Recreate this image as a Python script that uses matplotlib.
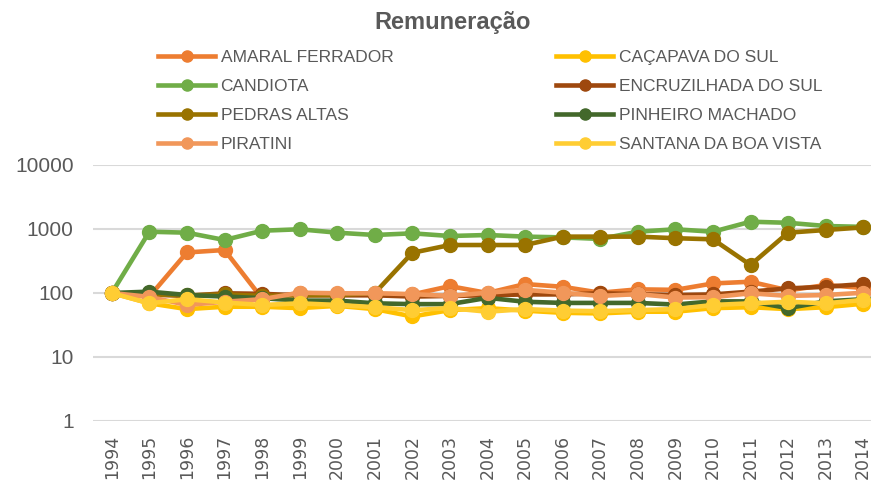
import matplotlib
matplotlib.use("Agg")
import matplotlib.pyplot as plt
from matplotlib.lines import Line2D

years = [str(y) for y in range(1994, 2015)]

amaral_ferrador = [100, 88, 430, 470, 82, 100, 97, 97, 95, 128, 100, 138, 125, 101, 114, 112, 141, 150, 110, 133, 120]
cacapava_do_sul = [100, 69, 56, 61, 61, 58, 63, 56, 43, 54, 58, 53, 49, 48, 51, 51, 58, 60, 56, 60, 68]
candiota = [100, 907, 876, 673, 940, 990, 876, 806, 856, 777, 806, 760, 740, 700, 907, 990, 907, 1300, 1250, 1114, 1080]
encruzilhada_do_sul = [100, 95, 90, 99, 97, 92, 92, 92, 88, 90, 92, 95, 95, 99, 96, 93, 95, 105, 118, 125, 138]
pedras_altas = [100, 95, 92, 95, 90, 92, 93, 100, 425, 562, 562, 562, 760, 760, 760, 718, 690, 274, 876, 965, 1060]
pinheiro_machado = [100, 105, 93, 88, 83, 76, 76, 69, 67, 67, 84, 73, 70, 70, 70, 66, 74, 74, 58, 74, 80]
piratini = [100, 87, 65, 73, 80, 101, 99, 99, 96, 90, 101, 112, 101, 90, 96, 85, 86, 99, 90, 93, 101]
santana_da_boa_vista = [100, 69, 80, 71, 65, 69, 65, 60, 54, 58, 51, 56, 53, 52, 54, 56, 65, 69, 73, 69, 78]

names = ["AMARAL FERRADOR", "CAÇAPAVA DO SUL", "CANDIOTA", "ENCRUZILHADA DO SUL",
         "PEDRAS ALTAS", "PINHEIRO MACHADO", "PIRATINI", "SANTANA DA BOA VISTA"]
series = [amaral_ferrador, cacapava_do_sul, candiota, encruzilhada_do_sul,
          pedras_altas, pinheiro_machado, piratini, santana_da_boa_vista]
colors = ["#ED7D31", "#FFC000", "#70AD47", "#9E480E", "#997300", "#43682B", "#F1975A", "#FFCD33"]

plt.rcParams['font.family'] = ['Liberation Sans', 'DejaVu Sans']

fig = plt.figure(figsize=(8.71, 4.82), dpi=100)
W, H = 871, 482
left, right, top, bottom = 93, 882, 165, 421
ax = fig.add_axes([left / W, 1 - bottom / H, (right - left) / W, (bottom - top) / H])

x = list(range(len(years)))
for name, vals, c in zip(names, series, colors):
    ax.plot(x, vals, color=c, lw=3.3, marker='o', ms=10, mec=c, mfc=c,
            solid_joinstyle='round', label=name, clip_on=False)

ax.set_yscale('log')
ax.set_ylim(1, 10000)
ax.set_xlim(-0.5, len(years) - 0.5)
ax.set_yticks([1, 10, 100, 1000, 10000])
ax.set_yticklabels(['1', '10', '100', '1000', '10000'])
ax.minorticks_off()
ax.set_xticks(x)
ax.set_xticklabels(years, rotation=90, family='DejaVu Sans')
ax.tick_params(axis='y', length=0, labelsize=15, colors='#595959', pad=14)
ax.tick_params(axis='x', length=0, labelsize=12.5, colors='#595959', pad=10)
ax.grid(axis='y', color='#D9D9D9', lw=1.5)
ax.set_axisbelow(True)
for s in ax.spines.values():
    s.set_visible(False)

fig.text(453 / W, 1 - 23 / H, 'Remuneração', ha='center', va='center',
         fontsize=17, fontweight='bold', color='#595959')

def mk_handle(c):
    return Line2D([], [], color=c, lw=3.3, marker='o', ms=8, mec=c, mfc=c)

left_idx = [0, 2, 4, 6]
right_idx = [1, 3, 5, 7]
for idx, xa in ((left_idx, 158), (right_idx, 556)):
    fig.legend([mk_handle(colors[i]) for i in idx], [names[i] for i in idx],
               loc='upper left', bbox_to_anchor=(xa / W, 1 - 50 / H),
               frameon=False, fontsize=12.5, labelcolor='#595959',
               handlelength=3.3, handletextpad=0.3, labelspacing=0.8,
               borderaxespad=0, borderpad=0)

fig.savefig('out.png', dpi=100)
